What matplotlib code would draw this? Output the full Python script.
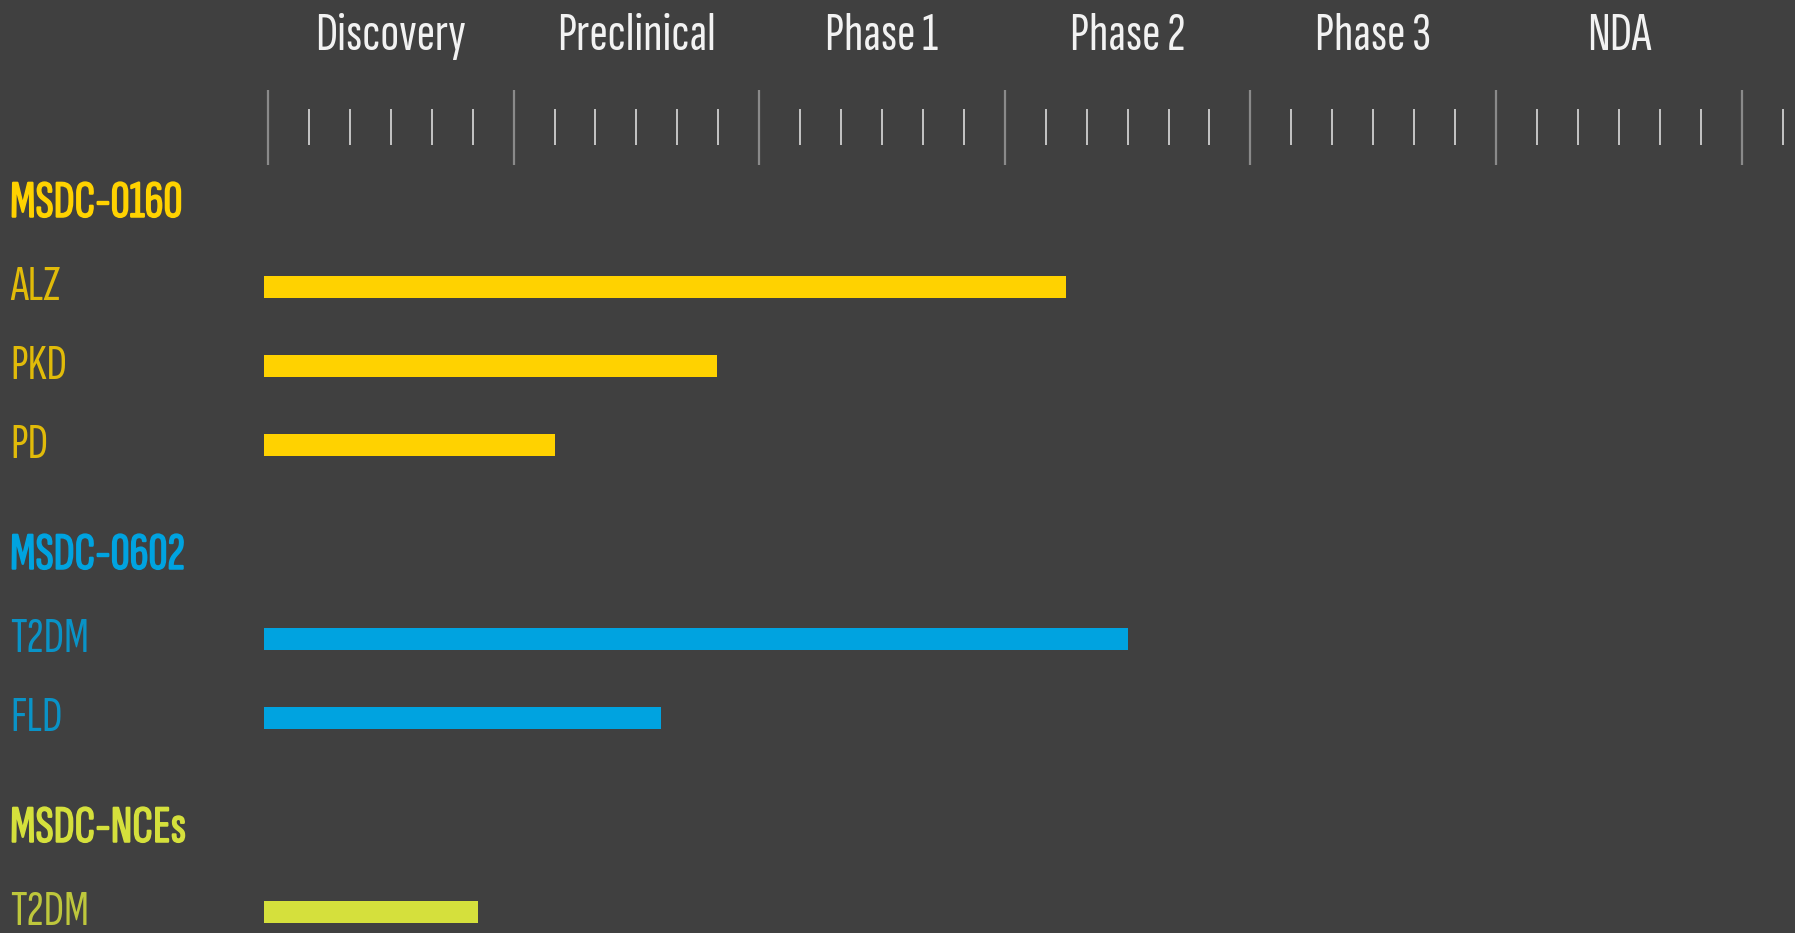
import matplotlib.pyplot as plt
import matplotlib.patheffects as pe
import numpy as np

# pipeline data: progress measured in phases (1.0 = one full phase)
phases = ["Discovery", "Preclinical", "Phase 1", "Phase 2", "Phase 3", "NDA"]

programs = ["MSDC-0160", "MSDC-0602", "MSDC-NCEs"]
program_colors = ["#FFD200", "#00A3E0", "#D5E03C"]

indications_0160 = ["ALZ", "PKD", "PD"]
progress_0160 = [3.25, 1.83, 1.17]

indications_0602 = ["T2DM", "FLD"]
progress_0602 = [3.50, 1.60]

indications_nces = ["T2DM"]
progress_nces = [0.855]

groups = [
    (indications_0160, progress_0160),
    (indications_0602, progress_0602),
    (indications_nces, progress_nces),
]

BG = "#404040"
FONT = ["Sofia Sans Extra Condensed", "DejaVu Sans"]

fig = plt.figure(figsize=(17.95, 9.33), dpi=100, facecolor=BG)
ax = fig.add_axes([0, 0, 1, 1])
ax.set_facecolor(BG)

# x in phase units, y in pixel-like units from the top
px_per_phase = 245.6
x0 = 268
ax.set_xlim(-x0 / px_per_phase, (1795 - x0) / px_per_phase)
ax.set_ylim(933, 0)
ax.axis("off")
label_x = (10 - x0) / px_per_phase

# phase header labels
for i, name in enumerate(phases):
    ax.text(i + 0.5, 36, name, ha="center", va="center", color="#f2f2f2",
            fontsize=40, fontweight="light", family=FONT)

# ruler: major ticks at phase boundaries, minor ticks in between
n_major = len(phases) + 1
ax.vlines(np.arange(n_major), 90, 165, color="#8a8a8a", lw=1.6)
minor = np.arange(1, 38) / 6
minor = minor[np.abs(minor - np.round(minor)) > 1e-6]
ax.vlines(minor, 109, 145, color="#d0d0d0", lw=1.3)

# programs and bars
y = 204
header_gap = 83
row_gap = 79
group_gap = 111
bar_h = 22
for prog, color, (labels, values) in zip(programs, program_colors, groups):
    # font has no bold face here, so thicken the header with a thin stroke
    ax.text(label_x, y, prog, ha="left", va="center",
            color=color, fontsize=38, fontweight="bold", family=FONT,
            path_effects=[pe.withStroke(linewidth=1.1, foreground=color)])
    y += header_gap
    for j, (lab, val) in enumerate(zip(labels, values)):
        if j > 0:
            y += row_gap
        ax.text(label_x, y, lab, ha="left", va="center",
                color=color, fontsize=37, fontweight="light", family=FONT, alpha=0.85)
        ax.barh(y, val + 0.015, left=-0.015, height=bar_h, color=color)
    y += group_gap

fig.savefig("out.png", dpi=100, facecolor=BG)
